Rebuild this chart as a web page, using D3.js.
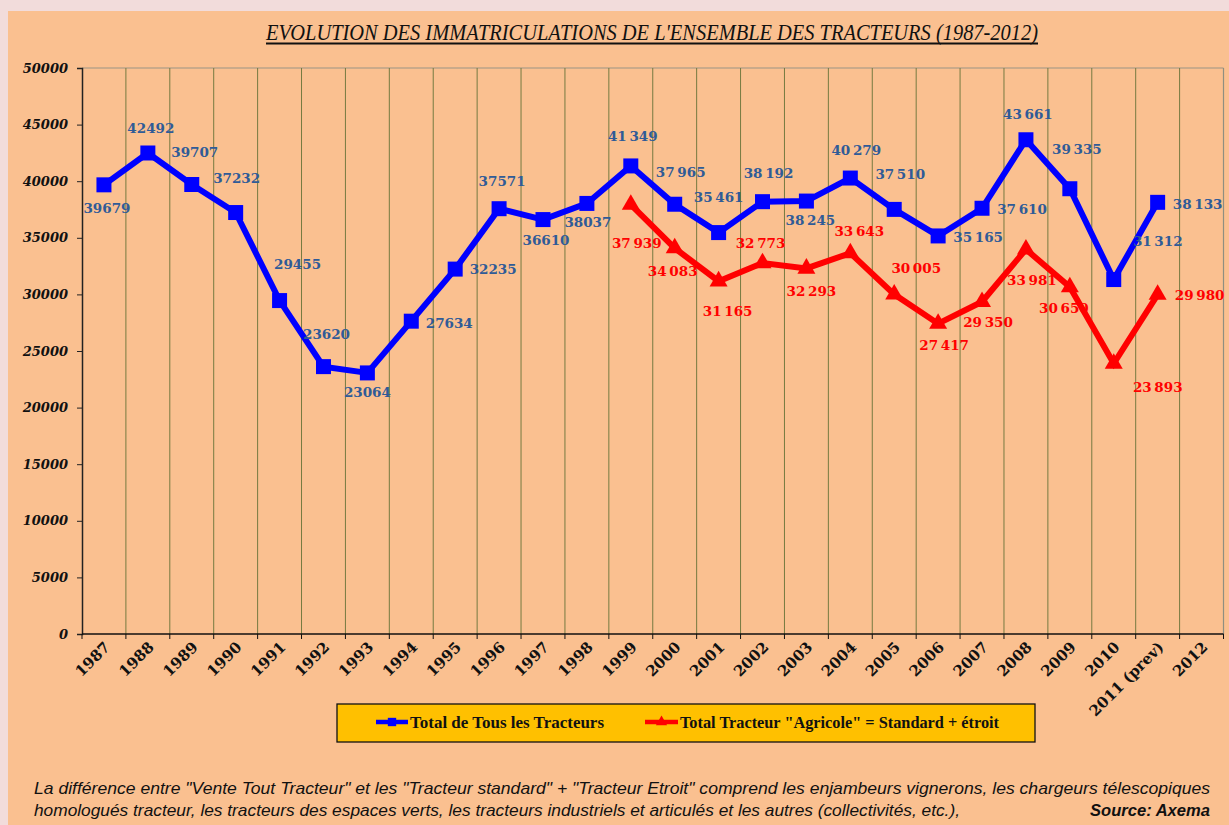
<!DOCTYPE html>
<html>
<head>
<meta charset="utf-8">
<script src="https://cdn.jsdelivr.net/npm/d3@7"></script>
<style>
  body { margin: 0; background: #f2dcdb; }
  svg { display: block; }
</style>
</head>
<body>
<svg class="chart_svg" width="1229" height="825"></svg>
<script>
/* Categories */
let years = ["1987", "1988", "1989", "1990", "1991", "1992", "1993", "1994", "1995", "1996",
    "1997", "1998", "1999", "2000", "2001", "2002", "2003", "2004", "2005", "2006",
    "2007", "2008", "2009", "2010", "2011 (prev)", "2012"];

/* Series values (null = no point) */
let total_all = [39679, 42492, 39707, 37232, 29455, 23620, 23064, 27634, 32235, 37571,
    36610, 38037, 41349, 37965, 35461, 38192, 38245, 40279, 37510, 35165,
    37610, 43661, 39335, 31312, 38133, null];
let total_agri = [null, null, null, null, null, null, null, null, null, null,
    null, null, 37939, 34083, 31165, 32773, 32293, 33643, 30005, 27417,
    29350, 33981, 30650, 23893, 29980, null];

/* Y axis ticks */
let y_ticks = [0, 5000, 10000, 15000, 20000, 25000, 30000, 35000, 40000, 45000, 50000];

/* Texts */
let title_text = "EVOLUTION DES IMMATRICULATIONS  DE L'ENSEMBLE  DES TRACTEURS (1987-2012)";
let legend_labels = ["Total de Tous les Tracteurs", "Total Tracteur \"Agricole\" = Standard + étroit"];
let note_lines = [
    "La différence entre \"Vente Tout Tracteur\" et les \"Tracteur standard\" + \"Tracteur Etroit\" comprend les enjambeurs vignerons, les chargeurs télescopiques",
    "homologués tracteur, les tracteurs des espaces verts, les tracteurs industriels et articulés et les autres (collectivités, etc.),"
];
let source_text = "Source: Axema";

/* Hand placed label offsets (as in the original Excel chart) */
let all_label_offsets = [[3, 23], [3, -25], [3, -32], [1, -34], [18, -36], [3, -32], [0, 19], [38, 2], [38, 0], [3, -28],
    [3, 21], [1, 19], [2, -30], [6, -32], [0, -35], [6, -29], [4, 19], [6, -28], [6, -35], [40, 1],
    [40, 1], [2, -26], [7, -40], [44, -38], [40, 2], [0, 0]];
let agri_label_offsets = {12: [6, 39], 13: [-2, 23], 14: [9, 30], 15: [-2, -20], 16: [5, 23], 17: [9, -22],
    18: [22, -26], 19: [6, 22], 20: [6, 20], 21: [6, 31], 22: [-6, 21], 23: [44, 24], 24: [42, 1]};

let svg = d3.select("svg.chart_svg");
let width = +svg.attr("width");
let height = +svg.attr("height");

let BLUE = "#0000ff";
let RED = "#ff0000";
let BLUE_LABEL = "#2f5b97";
let SERIF = "'DejaVu Serif', 'Liberation Serif', serif";

// orange panel
svg.append("rect").attr("x", 8).attr("y", 11).attr("width", width - 8).attr("height", height - 11).attr("fill", "#fac090");

let plot = {left: 82, right: 1223.5, top: 68, bottom: 634};

let x = d3.scaleBand().domain(years).range([plot.left, plot.right]).padding(0);
let y = d3.scaleLinear().domain([0, 50000]).range([plot.bottom, plot.top]);

/* Title */
svg.append("text")
    .attr("x", 266).attr("y", 40)
    .attr("textLength", 772).attr("lengthAdjust", "spacingAndGlyphs")
    .style("font-family", "'Liberation Serif', serif")
    .style("font-style", "italic")
    .style("font-size", "22.5px")
    .attr("fill", "#111")
    .text(title_text);
svg.append("line").attr("x1", 266).attr("x2", 1038).attr("y1", 43.5).attr("y2", 43.5)
    .attr("stroke", "#111").attr("stroke-width", 1.8);

/* Plot frame + vertical gridlines at category boundaries */
let grid = svg.append("g");
grid.append("line").attr("x1", plot.left).attr("x2", plot.right).attr("y1", plot.top).attr("y2", plot.top)
    .attr("stroke", "#9a9384").attr("stroke-width", 1.2);
grid.selectAll("line.vgrid")
    .data(years.slice(1))
    .enter()
    .append("line")
    .attr("class", "vgrid")
    .attr("x1", function (d) { return x(d); })
    .attr("x2", function (d) { return x(d); })
    .attr("y1", plot.top).attr("y2", plot.bottom)
    .attr("stroke", "#757a40").attr("stroke-width", 1);
grid.append("line").attr("x1", plot.right).attr("x2", plot.right).attr("y1", plot.top).attr("y2", plot.bottom)
    .attr("stroke", "#8f8f80").attr("stroke-width", 1.2);

/* Y axis */
let y_axis = svg.append("g")
    .attr("transform", "translate(" + plot.left + ",0)")
    .call(d3.axisLeft(y).tickValues(y_ticks).tickSize(5).tickPadding(9).tickFormat(d3.format("d")));
y_axis.select(".domain").attr("stroke", "#222").attr("stroke-width", 1.5);
y_axis.selectAll(".tick line").attr("stroke", "#222");
y_axis.selectAll(".tick text")
    .style("font-family", SERIF)
    .style("font-weight", "bold")
    .style("font-style", "italic")
    .style("font-size", "13px")
    .attr("fill", "#111");

/* X axis: ticks on boundaries, labels at centres */
let x_axis = svg.append("g").attr("transform", "translate(0," + plot.bottom + ")");
x_axis.append("line").attr("x1", plot.left).attr("x2", plot.right).attr("stroke", "#111").attr("stroke-width", 1.5);
x_axis.selectAll("line.xtick")
    .data(years.concat(["end"]))
    .enter()
    .append("line")
    .attr("class", "xtick")
    .attr("x1", function (d, i) { return plot.left + i * x.bandwidth(); })
    .attr("x2", function (d, i) { return plot.left + i * x.bandwidth(); })
    .attr("y1", 0).attr("y2", 5)
    .attr("stroke", "#111");
x_axis.selectAll("text")
    .data(years)
    .enter()
    .append("text")
    .attr("transform", function (d) {
        return "translate(" + (x(d) + x.bandwidth() / 2 + 7) + ",14) rotate(-45)";
    })
    .attr("text-anchor", "end")
    .style("font-family", SERIF)
    .style("font-weight", "bold")
    .style("font-size", "15px")
    .attr("fill", "#111")
    .text(function (d) { return d; });

function cx(i) { return x(years[i]) + x.bandwidth() / 2; }

function fmt_label(v, i) {
    // the data labels switch to space grouped numbers from 1999 on
    if (i < 12) return String(v);
    return d3.format(",")(v).replace(/,/g, "\u2009");
}

function draw_series(values, color, symbol, symbol_size) {
    let pts = values.map(function (v, i) { return {v: v, i: i}; }).filter(function (d) { return d.v !== null; });
    let line = d3.line()
        .x(function (d) { return cx(d.i); })
        .y(function (d) { return y(d.v); });
    let g = svg.append("g");
    g.append("path")
        .datum(pts)
        .attr("d", line)
        .attr("fill", "none")
        .attr("stroke", color)
        .attr("stroke-width", 6)
        .attr("stroke-linejoin", "miter");
    g.selectAll("path.mark")
        .data(pts)
        .enter()
        .append("path")
        .attr("class", "mark")
        .attr("d", d3.symbol().type(symbol).size(symbol_size))
        .attr("transform", function (d) { return "translate(" + cx(d.i) + "," + y(d.v) + ")"; })
        .attr("fill", color);
    return g;
}

function draw_labels(values, label_color, offsets) {
    let pts = values.map(function (v, i) { return {v: v, i: i}; }).filter(function (d) { return d.v !== null; });
    svg.append("g").selectAll("text")
        .data(pts)
        .enter()
        .append("text")
        .attr("x", function (d) { return cx(d.i) + offsets[d.i][0]; })
        .attr("y", function (d) { return y(d.v) + offsets[d.i][1]; })
        .attr("dy", "0.36em")
        .attr("text-anchor", "middle")
        .style("font-family", SERIF)
        .style("font-weight", "bold")
        .style("font-size", "13.5px")
        .attr("fill", label_color)
        .text(function (d) { return fmt_label(d.v, d.i); });
}

draw_series(total_all, BLUE, d3.symbolSquare, 225);
draw_series(total_agri, RED, d3.symbolTriangle, 140);
draw_labels(total_all, BLUE_LABEL, all_label_offsets);
draw_labels(total_agri, RED, agri_label_offsets);

/* Legend */
let legend = svg.append("g");
legend.append("rect").attr("x", 337).attr("y", 704).attr("width", 698).attr("height", 38)
    .attr("fill", "#ffc000").attr("stroke", "#111").attr("stroke-width", 1.3);
let legend_items = [
    {label: legend_labels[0], color: BLUE, symbol: d3.symbolSquare, size: 70, x1: 376, x2: 408, tx: 410, tl: 194},
    {label: legend_labels[1], color: RED, symbol: d3.symbolTriangle, size: 55, x1: 645, x2: 678, tx: 680, tl: 319}
];
legend_items.forEach(function (it) {
    legend.append("line").attr("x1", it.x1).attr("x2", it.x2).attr("y1", 722).attr("y2", 722)
        .attr("stroke", it.color).attr("stroke-width", 4.5);
    legend.append("path").attr("d", d3.symbol().type(it.symbol).size(it.size)())
        .attr("transform", "translate(" + ((it.x1 + it.x2) / 2) + ",722)").attr("fill", it.color);
    legend.append("text").attr("x", it.tx).attr("y", 727.5)
        .attr("textLength", it.tl).attr("lengthAdjust", "spacingAndGlyphs")
        .style("font-family", "'Liberation Serif', serif")
        .style("font-weight", "bold")
        .style("font-size", "16px")
        .attr("fill", "#111")
        .text(it.label);
});

/* Footnote */
let note_widths = [1176, 926];
svg.append("g").selectAll("text")
    .data(note_lines)
    .enter()
    .append("text")
    .attr("x", 34)
    .attr("y", function (d, i) { return 794 + i * 22; })
    .attr("textLength", function (d, i) { return note_widths[i]; })
    .attr("lengthAdjust", "spacingAndGlyphs")
    .style("font-family", "'Liberation Sans Narrow', 'Liberation Sans', sans-serif")
    .style("font-style", "italic")
    .style("font-size", "16.5px")
    .attr("fill", "#111")
    .text(function (d) { return d; });
svg.append("text")
    .attr("x", 1210).attr("y", 816)
    .attr("text-anchor", "end")
    .attr("textLength", 120).attr("lengthAdjust", "spacingAndGlyphs")
    .style("font-family", "'Liberation Sans Narrow', 'Liberation Sans', sans-serif")
    .style("font-style", "italic")
    .style("font-weight", "bold")
    .style("font-size", "16.5px")
    .attr("fill", "#111")
    .text(source_text);
</script>
</body>
</html>
